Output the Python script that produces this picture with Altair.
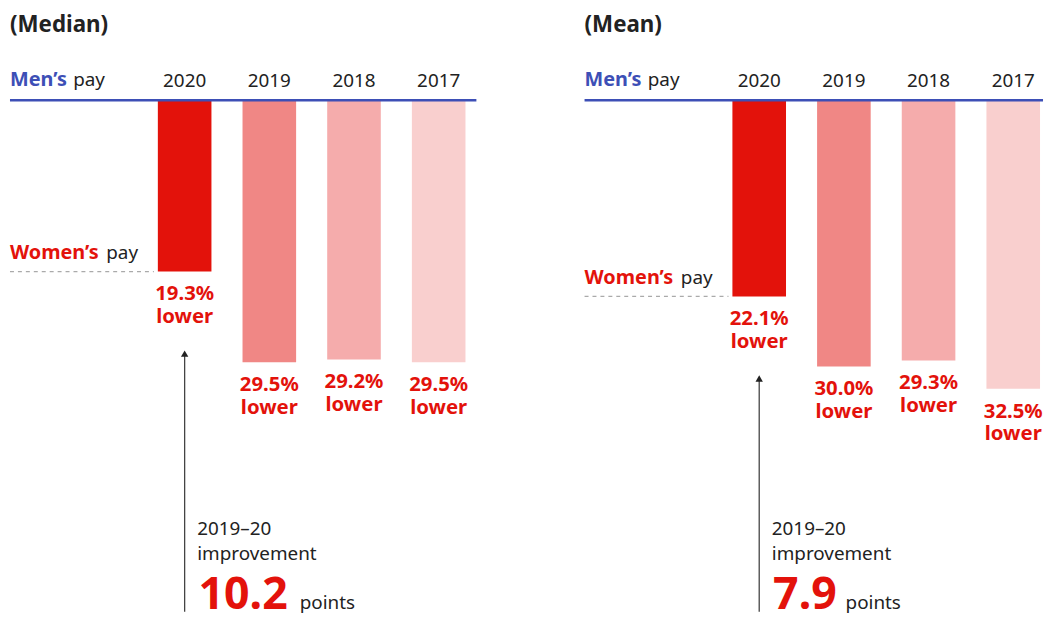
import altair as alt
import pandas as pd

# ---- data ----
years = ["2020", "2019", "2018", "2017"]
median_gap = [19.3, 29.5, 29.2, 29.5]
mean_gap = [22.1, 30.0, 29.3, 32.5]
panel_titles = ["(Median)", "(Mean)"]
improvements = ["10.2", "7.9"]
improvement_period = "2019–20"
bar_colors = ["#E3120B", "#F08785", "#F5ACAC", "#F9CFCE"]

# ---- style / layout ----
FONT = "Noto Sans"
RED = "#E3120B"
BLUE = "#3D4FB6"
DARK = "#222222"
H = 606
LINE_Y = 90.5
PX_PER_PCT = 8.95
BAR_RANGE = [149, 459]


def panel(title, gaps, improvement, points_x, width):
    df = pd.DataFrame({
        "year": years,
        "gap": gaps,
        "label": [f"{g:.1f}%\nlower" for g in gaps],
    })
    latest = df.iloc[[0]]
    one = pd.DataFrame({"k": [0]})

    x = alt.X("year:N", scale=alt.Scale(domain=years, range=BAR_RANGE,
                                        paddingInner=0.367, paddingOuter=0), axis=None)
    y = alt.Y("gap:Q", scale=alt.Scale(domain=[0, 40], range=[LINE_Y, LINE_Y + 40 * PX_PER_PCT]),
              axis=None)

    bars = alt.Chart(df).mark_bar().encode(
        x=x, y=y,
        color=alt.Color("year:N", scale=alt.Scale(domain=years, range=bar_colors), legend=None),
    )
    baseline = alt.Chart(one).mark_rule(color=BLUE, strokeWidth=2.5).encode(
        x=alt.value(0), x2=alt.value(width), y=alt.value(LINE_Y))
    year_labels = alt.Chart(df).mark_text(font=FONT, fontSize=19, color=DARK,
                                          baseline="alphabetic").encode(
        x=x, y=alt.value(77.5), text="year:N")
    value_labels = alt.Chart(df).mark_text(font=FONT, fontSize=20.5, fontWeight="bold", color=RED,
                                           baseline="alphabetic", lineBreak="\n",
                                           lineHeight=23, dy=29).encode(
        x=x, y=y, text="label:N")
    dashed = alt.Chart(latest).mark_rule(strokeDash=[4, 4], color="#AAAAAA", strokeWidth=1.2).encode(
        x=alt.value(0), x2=alt.value(145), y=y)
    women = alt.Chart(latest).mark_text(font=FONT, fontSize=20, fontWeight="bold", color=RED,
                                        align="left", baseline="alphabetic", dy=-12.7).encode(
        x=alt.value(0), y=y, text=alt.value("Women’s"))
    women_pay = alt.Chart(latest).mark_text(font=FONT, fontSize=19, color=DARK,
                                            align="left", baseline="alphabetic", dy=-12.7).encode(
        x=alt.value(97), y=y, text=alt.value("pay"))
    men = alt.Chart(one).mark_text(font=FONT, fontSize=20, fontWeight="bold", color=BLUE,
                                   align="left", baseline="alphabetic").encode(
        x=alt.value(0), y=alt.value(76.5), text=alt.value("Men’s"))
    men_pay = alt.Chart(one).mark_text(font=FONT, fontSize=19, color=DARK,
                                       align="left", baseline="alphabetic").encode(
        x=alt.value(63.7), y=alt.value(76.5), text=alt.value("pay"))
    ttl = alt.Chart(one).mark_text(font=FONT, fontSize=22.5, fontWeight="bold", color=DARK,
                                   align="left", baseline="alphabetic").encode(
        x=alt.value(0), y=alt.value(21.5), text=alt.value(title))
    arrow = alt.Chart(latest).mark_rule(color="#444444", strokeWidth=1.3, yOffset=84).encode(
        x=x, y=y, y2=alt.value(H))
    head = alt.Chart(latest).mark_point(shape="triangle-up", filled=True, size=55, color="#222222",
                                        opacity=1, yOffset=82.7).encode(x=x, y=y)
    period = alt.Chart(one).mark_text(font=FONT, fontSize=19, color=DARK, align="left",
                                      baseline="alphabetic").encode(
        x=alt.value(188.7), y=alt.value(529), text=alt.value(improvement_period))
    impr = alt.Chart(one).mark_text(font=FONT, fontSize=19, color=DARK, align="left",
                                    baseline="alphabetic").encode(
        x=alt.value(188.7), y=alt.value(553.5), text=alt.value("improvement"))
    big = alt.Chart(one).mark_text(font=FONT, fontSize=45, fontWeight="bold", color=RED, align="left",
                                   baseline="alphabetic").encode(
        x=alt.value(190), y=alt.value(603), text=alt.value(improvement))
    pts = alt.Chart(one).mark_text(font=FONT, fontSize=19, color=DARK, align="left",
                                   baseline="alphabetic").encode(
        x=alt.value(points_x), y=alt.value(603), text=alt.value("points"))

    return alt.layer(bars, baseline, year_labels, value_labels, dashed, women, women_pay,
                     men, men_pay, ttl, arrow, head, period, impr, big, pts).properties(
        width=width, height=H)


points_offsets = [292, 263]
panel_widths = [470, 462]
panels = [panel(t, g, imp, px, w) for t, g, imp, px, w in
          zip(panel_titles, [median_gap, mean_gap], improvements, points_offsets, panel_widths)]

chart = alt.hconcat(*panels, spacing=105).properties(
    padding=0, background="white"
).configure_view(stroke=None)

chart.save("out.html", embed_options={"renderer": "svg", "actions": False})
